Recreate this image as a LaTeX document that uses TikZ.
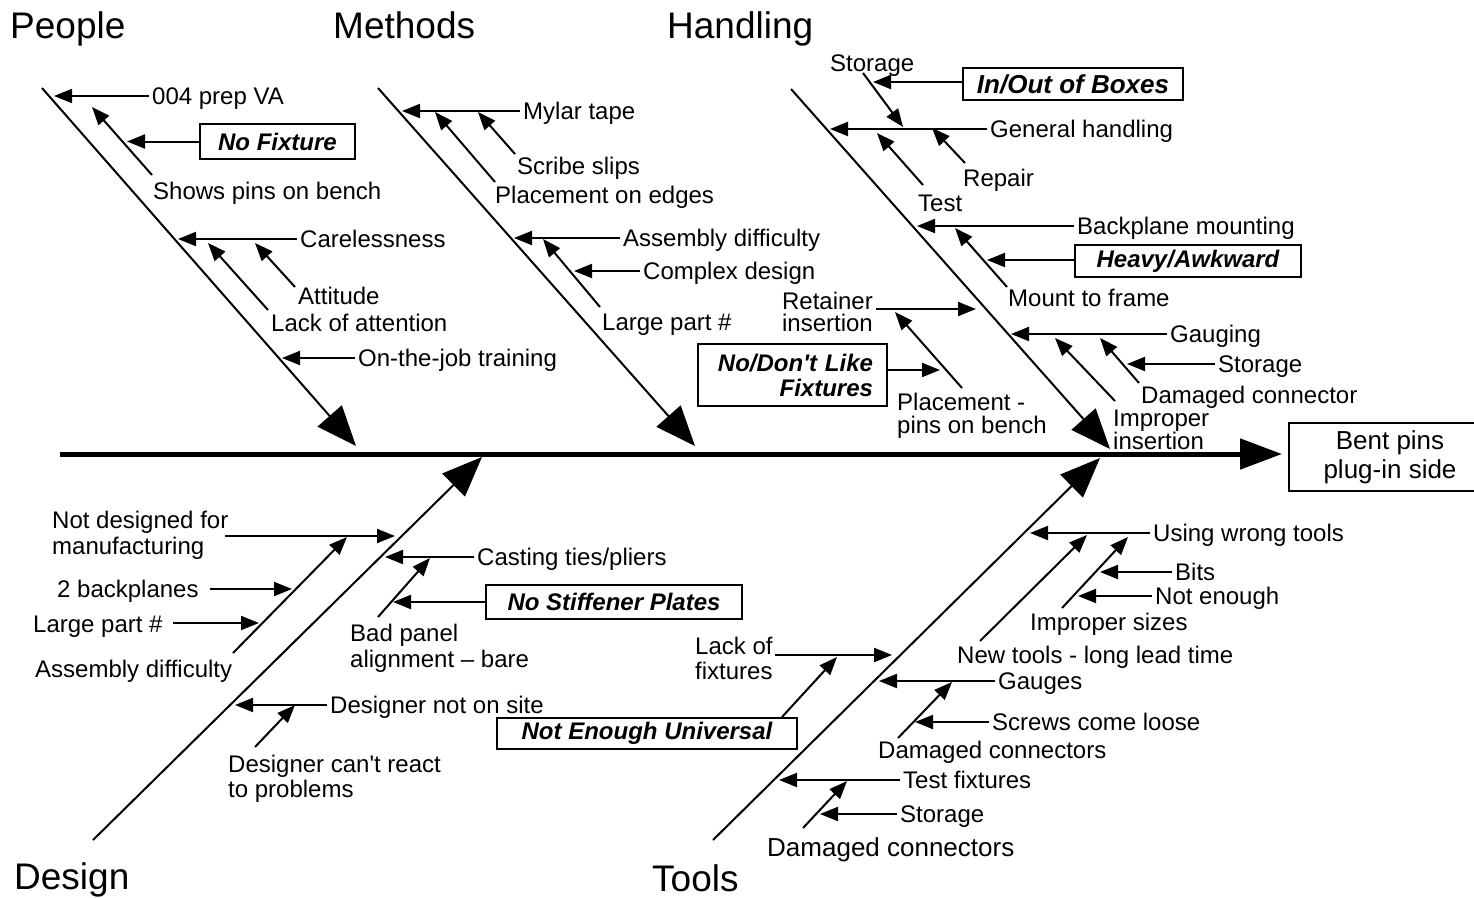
\documentclass[tikz,border=0pt]{standalone}
\usepackage{fontspec}
\setmainfont{Liberation Sans}
\usetikzlibrary{arrows.meta}
\begin{document}
\begin{tikzpicture}[x=1pt,y=-1pt,
  lbl/.style={font=\fontsize{24}{26}\selectfont, anchor=west, inner xsep=3pt, inner ysep=0pt, text height=17.2pt, text depth=0pt},
  ml/.style={font=\fontsize{24}{#1}\selectfont, inner sep=0pt},
  ttl/.style={font=\fontsize{37}{40}\selectfont, anchor=west, inner sep=0pt, text height=26.5pt, text depth=0pt},
  tag/.style={draw, line width=2pt, font=\fontsize{24}{25}\selectfont\bfseries\itshape, inner sep=0pt, outer sep=0pt},
  bone/.style={line width=2pt, -{Triangle[length=40pt,width=32pt]}},
  br/.style={line width=2pt, -{Triangle[length=18pt,width=14pt]}},
  spine/.style={line width=5pt, -{Triangle[length=42pt,width=30pt]}},
]
\clip (0,0) rectangle (1474,897);
\fill[white] (0,0) rectangle (1474,897);

% ---------- effect and main spine ----------
\node[draw, line width=2pt, font=\fontsize{26}{29}\selectfont, align=center,
      minimum width=202pt, minimum height=68pt, inner sep=0pt, outer sep=0pt]
      (bent) at (1390,457) {Bent pins\\plug-in side};
\coordinate (sp0) at (60,454);
\draw[spine, shorten >=7pt] (sp0) -- (sp0 -| bent.west);

% ---------- People ----------
\node[ttl] (tPeople) at (10,25) {People};
\coordinate (pS) at (42,88); \coordinate (pE) at (356,446);
\draw[bone] (pS) -- (pE);

\node[lbl] (p1) at (149,96) {004 prep VA};
\coordinate (p1t) at (54,96);
\draw[br] (p1.west) -- (p1t);

\node[lbl] (p2) at (150,191) {Shows pins on bench};
\coordinate (p2a) at (152,175); \coordinate (p2t) at (92,107);
\draw[br] (p2a) -- (p2t);

\node[tag, minimum width=155pt, minimum height=35pt] (p3) at (277.5,141.5) {No Fixture};
\coordinate (p3t) at (127,141.5);
\draw[br] (p3.west) -- (p3t);

\node[lbl] (p4) at (297,239) {Carelessness};
\coordinate (p4t) at (178,239);
\draw[br] (p4.west) -- (p4t);

\node[lbl] (p5) at (295,296) {Attitude};
\coordinate (p5a) at (295,287); \coordinate (p5t) at (255,243);
\draw[br] (p5a) -- (p5t);

\node[lbl] (p6) at (268,323) {Lack of attention};
\coordinate (p6a) at (268,310); \coordinate (p6t) at (208,243);
\draw[br] (p6a) -- (p6t);

\node[lbl] (p7) at (355,358) {On-the-job training};
\coordinate (p7t) at (282,358);
\draw[br] (p7.west) -- (p7t);

% ---------- Methods ----------
\node[ttl] (tMethods) at (333,25) {Methods};
\coordinate (mS) at (378,88); \coordinate (mE) at (695,446);
\draw[bone] (mS) -- (mE);

\node[lbl] (m1) at (520,111) {Mylar tape};
\coordinate (m1t) at (402,111);
\draw[br] (m1.west) -- (m1t);

\node[lbl] (m2) at (514,166) {Scribe slips};
\coordinate (m2a) at (515,154); \coordinate (m2t) at (478,112);
\draw[br] (m2a) -- (m2t);

\node[lbl] (m3) at (492,195) {Placement on edges};
\coordinate (m3a) at (495,182); \coordinate (m3t) at (435,112);
\draw[br] (m3a) -- (m3t);

\node[lbl] (m4) at (620,238) {Assembly difficulty};
\coordinate (m4t) at (514,238);
\draw[br] (m4.west) -- (m4t);

\node[lbl] (m5) at (640,271) {Complex design};
\coordinate (m5t) at (574,271);
\draw[br] (m5.west) -- (m5t);

\node[lbl] (m6) at (599,322) {Large part \#};
\coordinate (m6a) at (600,307); \coordinate (m6t) at (543,239);
\draw[br] (m6a) -- (m6t);

% ---------- Handling ----------
\node[ttl] (tHandling) at (667,25) {Handling};
\coordinate (hS) at (791,89); \coordinate (hE) at (1110,449);
\draw[bone] (hS) -- (hE);

\node[lbl] (h1) at (827,63) {Storage};
\coordinate (h1a) at (863,73); \coordinate (h1t) at (903,127);
\draw[br] (h1a) -- (h1t);

\node[tag, font=\fontsize{26}{27}\selectfont\bfseries\itshape, minimum width=220pt, minimum height=32pt]
      (h2) at (1073,84) {In/Out of Boxes};
\coordinate (h2t) at (873,82);
\draw[br] (h2.west |- h2t) -- (h2t);

\node[lbl] (h3) at (987,129) {General handling};
\coordinate (h3t) at (830,129);
\draw[br] (h3.west) -- (h3t);

\node[lbl] (h4) at (960,178) {Repair};
\coordinate (h4a) at (965,163); \coordinate (h4t) at (932,128);
\draw[br] (h4a) -- (h4t);

\node[lbl] (h5) at (915,203) {Test};
\coordinate (h5a) at (923,185); \coordinate (h5t) at (877,133);
\draw[br] (h5a) -- (h5t);

\node[lbl] (h6) at (1074,226) {Backplane mounting};
\coordinate (h6t) at (917,226);
\draw[br] (h6.west) -- (h6t);

\node[tag, minimum width=226pt, minimum height=32pt] (h7) at (1188,261) {Heavy/Awkward};
\coordinate (h7t) at (987,260);
\draw[br] (h7.west |- h7t) -- (h7t);

\node[lbl] (h8) at (1005,298) {Mount to frame};
\coordinate (h8a) at (1007,287); \coordinate (h8t) at (955,228);
\draw[br] (h8a) -- (h8t);

\node[ml=22, anchor=north east, align=right] (h9) at (873,292.4) {Retainer\\insertion};
\coordinate (h9a) at (876,309); \coordinate (h9t) at (976,309);
\draw[br] (h9a) -- (h9t);

\node[ml=23, anchor=north west, align=left] (h10) at (897,393.4) {Placement -\\pins on bench};
\coordinate (h10a) at (962,388); \coordinate (h10t) at (895,312);
\draw[br] (h10a) -- (h10t);

\node[tag, minimum width=189pt, minimum height=62pt, text width=161pt, align=right]
      (h11) at (792.5,375) {No/Don\textquotesingle t Like\\Fixtures};
\coordinate (h11t) at (940,370);
\draw[br] (h11.east |- h11t) -- (h11t);

\node[lbl] (h12) at (1167,334) {Gauging};
\coordinate (h12t) at (1011,334);
\draw[br] (h12.west) -- (h12t);

\node[lbl] (h13) at (1215,364) {Storage};
\coordinate (h13t) at (1127,364);
\draw[br] (h13.west) -- (h13t);

\node[lbl] (h14) at (1138,395) {Damaged connector};
\coordinate (h14a) at (1139,383); \coordinate (h14t) at (1100,338);
\draw[br] (h14a) -- (h14t);

\node[ml=20, anchor=north west, align=left] (h15) at (1113,409.4) {Improper\\insertion};
\coordinate (h15a) at (1115,401); \coordinate (h15t) at (1055,338);
\draw[br] (h15a) -- (h15t);

% ---------- Design ----------
\node[ttl] (tDesign) at (14,876) {Design};
\coordinate (dS) at (93,840); \coordinate (dE) at (482,457);
\draw[bone] (dS) -- (dE);

\node[ml=26, anchor=north west, align=left] (d1) at (52,511.4) {Not designed for\\manufacturing};
\coordinate (d1a) at (225,536); \coordinate (d1t) at (395,536);
\draw[br] (d1a) -- (d1t);

\node[lbl] (d2) at (32,669) {Assembly difficulty};
\coordinate (d2a) at (233,653); \coordinate (d2t) at (347,537);
\draw[br] (d2a) -- (d2t);

\node[lbl] (d3) at (54,589) {2 backplanes};
\coordinate (d3a) at (210,589); \coordinate (d3t) at (292,589);
\draw[br] (d3a) -- (d3t);

\node[lbl] (d4) at (30,624) {Large part \#};
\coordinate (d4a) at (173,623); \coordinate (d4t) at (259,623);
\draw[br] (d4a) -- (d4t);

\node[lbl] (d5) at (474,557) {Casting ties/pliers};
\coordinate (d5t) at (385,557);
\draw[br] (d5.west) -- (d5t);

\node[tag, minimum width=256pt, minimum height=34pt] (d6) at (614,602) {No Stiffener Plates};
\coordinate (d6t) at (393,602);
\draw[br] (d6.west) -- (d6t);

\node[ml=26, anchor=north west, align=left] (d7) at (350,623.4) {Bad panel\\alignment \textendash{} bare};
\coordinate (d7a) at (378,617); \coordinate (d7t) at (430,558);
\draw[br] (d7a) -- (d7t);

\node[lbl] (d8) at (327,705) {Designer not on site};
\coordinate (d8t) at (235,705);
\draw[br] (d8.west) -- (d8t);

\node[ml=25, anchor=north west, align=left] (d9) at (228,754.4) {Designer can\textquotesingle t react\\to problems};
\coordinate (d9a) at (255,747); \coordinate (d9t) at (295,705);
\draw[br] (d9a) -- (d9t);

% ---------- Tools ----------
\node[ttl] (tTools) at (652,878) {Tools};
\coordinate (tS) at (713,840); \coordinate (tE) at (1100,458);
\draw[bone] (tS) -- (tE);

\node[lbl] (t1) at (1150,533) {Using wrong tools};
\coordinate (t1t) at (1030,533);
\draw[br] (t1.west) -- (t1t);

\node[lbl] (t2) at (1027,622) {Improper sizes};
\coordinate (t2a) at (1062,608); \coordinate (t2t) at (1128,537);
\draw[br] (t2a) -- (t2t);

\node[lbl] (t3) at (1172,572) {Bits};
\coordinate (t3t) at (1100,572);
\draw[br] (t3.west) -- (t3t);

\node[lbl] (t4) at (1152,596) {Not enough};
\coordinate (t4t) at (1078,596);
\draw[br] (t4.west) -- (t4t);

\node[lbl] (t5) at (954,655) {New tools - long lead time};
\coordinate (t5a) at (980,641); \coordinate (t5t) at (1087,535);
\draw[br] (t5a) -- (t5t);

\node[lbl] (t6) at (995,681) {Gauges};
\coordinate (t6t) at (879,681);
\draw[br] (t6.west) -- (t6t);

\node[lbl] (t7) at (989,722) {Screws come loose};
\coordinate (t7t) at (915,722);
\draw[br] (t7.west) -- (t7t);

\node[lbl] (t8) at (875,750) {Damaged connectors};
\coordinate (t8a) at (898,738); \coordinate (t8t) at (952,682);
\draw[br] (t8a) -- (t8t);

\node[ml=25, anchor=north west, align=left] (t9) at (695,636.4) {Lack of\\fixtures};
\coordinate (t9a) at (775,655); \coordinate (t9t) at (892,655);
\draw[br] (t9a) -- (t9t);

\node[tag, minimum width=300pt, minimum height=31pt] (t10) at (647,733.5) {Not Enough Universal};
\coordinate (t10a) at (782,717); \coordinate (t10t) at (837,657);
\draw[br] (t10a) -- (t10t);

\node[lbl] (t11) at (900,780) {Test fixtures};
\coordinate (t11t) at (779,780);
\draw[br] (t11.west) -- (t11t);

\node[lbl] (t12) at (897,814) {Storage};
\coordinate (t12t) at (820,814);
\draw[br] (t12.west) -- (t12t);

\node[lbl, font=\fontsize{26}{28}\selectfont, text height=18.6pt] (t13) at (764,847) {Damaged connectors};
\coordinate (t13a) at (803,828); \coordinate (t13t) at (847,781);
\draw[br] (t13a) -- (t13t);
\end{tikzpicture}
\end{document}
